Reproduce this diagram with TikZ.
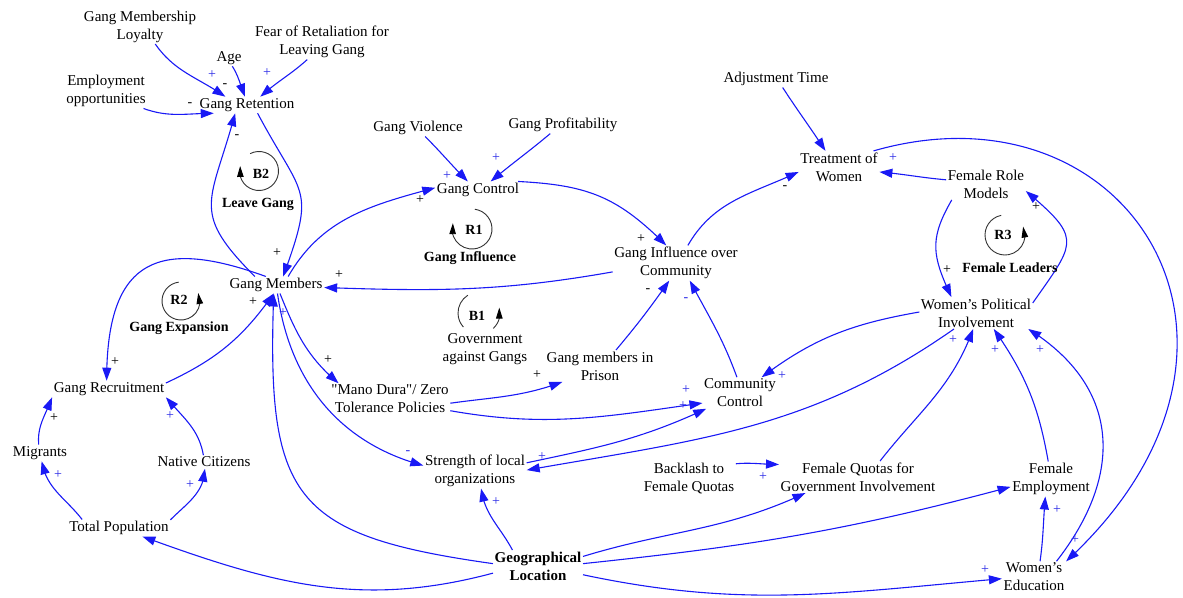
\documentclass[tikz,border=0pt]{standalone}
\usepackage{fontspec}
\setmainfont{Liberation Serif}
\newfontfamily\qfont{Liberation Serif}
\usetikzlibrary{arrows.meta,bending}
\definecolor{linkblue}{RGB}{25,25,245}
\definecolor{polblue}{RGB}{40,40,230}
\begin{document}
\begin{tikzpicture}[x=1pt,y=1pt,
  var/.style={inner sep=1.5pt, align=center, font=\fontsize{15}{18}\selectfont, text=black},
  lnk/.style={draw=linkblue, line width=1.1pt, -{Triangle[length=13pt,width=9pt]}},
  plb/.style={inner sep=0pt, font=\fontsize{14}{16}\selectfont, text=polblue},
  plk/.style={inner sep=0pt, font=\fontsize{14}{16}\selectfont, text=black},
  loopc/.style={draw=black!80, line width=0.9pt},
  looparr/.style={loopc, -{Triangle[length=11pt,width=6.5pt,color=black]}},
  lname/.style={inner sep=0pt, font=\fontsize{14}{16}\selectfont\bfseries}]
\useasboundingbox (0,0) rectangle (1183,597);

% variables
\node[var] (gml) at (140,570.5) {Gang Membership\\Loyalty};
\node[var] (age) at (229,539) {Age};
\node[var] (fear) at (322,555) {Fear of Retaliation for\\Leaving Gang};
\node[var] (emp) at (106,506) {Employment\\opportunities};
\node[var] (gr) at (247,492) {Gang Retention};
\node[var] (gv) at (418,469) {Gang Violence};
\node[var] (gp) at (563,472) {Gang Profitability};
\node[var] (gc) at (478,407) {Gang Control};
\node[var] (adj) at (776,518) {Adjustment Time};
\node[var] (tw) at (839,430) {Treatment of\\Women};
\node[var] (frm) at (986,413) {Female Role\\Models};
\node[var] (wpi) at (976,284) {Women's Political\\Involvement};
\node[var] (gio) at (676,334) {Gang Influence over\\Community};
\node[var] (gm) at (276,312) {Gang Members};
\node[var] (gpr) at (600,231) {Gang members in\\Prison};
\node[var] (mdz) at (390,198) {{\qfont"}Mano Dura{\qfont"}/ Zero\\Tolerance Policies};
\node[var] (cc) at (740,204) {Community\\Control};
\node[var] (grec) at (109,208) {Gang Recruitment};
\node[var] (mig) at (40,144) {Migrants};
\node[var] (nc) at (204,135) {Native Citizens};
\node[var] (tp) at (119,69) {Total Population};
\node[var] (slo) at (475,126) {Strength of local\\organizations};
\node[var] (bfq) at (689,118) {Backlash to\\Female Quotas};
\node[var] (fq) at (858,120) {Female Quotas for\\Government Involvement};
\node[var] (fe) at (1051,118) {Female\\Employment};
\node[var,font=\fontsize{15}{18}\selectfont\bfseries] (geo) at (538,31) {Geographical\\Location};
\node[var] (we) at (1034,20) {Women's\\Education};

% links
\draw[lnk] (gml.-49) to[out=-55,in=145] (gr.159);
\draw[lnk] (age.-68) to[out=-58,in=112] (gr.104);
\draw[lnk] (fear.-130) to[out=-138,in=42] (gr.32);
\draw[lnk] (emp.-25) to[out=-20,in=180] (gr.194);
\draw[lnk] (gr.-38) to[out=-62,in=70,looseness=1.5] (gm.50);
\draw[lnk] (gm.158) to[out=135,in=-105,looseness=1.45] (gr.-145);
\draw[lnk] (gm.140) to[out=160,in=90,looseness=1.6] (grec.106);
\draw[lnk] (grec.6) to[out=25,in=-125] (gm.-105);
\draw[lnk] (gm.35) to[out=60,in=195] (gc.177);
\draw[lnk] (gv.-50) to[out=-45,in=135] (gc.140);
\draw[lnk] (gp.-146) to[out=-140,in=40] (gc.34);
\draw[lnk] (gc.12) to[out=-3,in=135,looseness=1.1] (gio.119);
\draw[lnk] (gio.56) to[out=60,in=205] (tw.187);
\draw[lnk] (adj.-52) to[out=-57,in=123] (tw.130);
\draw[lnk] (frm.174) to[out=175,in=-5] (tw.-7);
\draw[lnk] (tw.25) .. controls (1130,520) and (1300,250) .. (we.26);
\draw[lnk] (we.35) to[out=52,in=-32,looseness=1.2] (wpi.-17);
\draw[lnk] (fe.99) to[out=100,in=-55] (wpi.-42);
\draw[lnk] (fq.36) to[out=52,in=-110] (wpi.-100);
\draw[lnk] (wpi.-144) to[out=-145,in=10] (slo.1);
\draw[lnk] (wpi.179) to[out=190,in=37] (cc.36);
\draw[lnk] (cc.101) to[out=110,in=-62] (gio.-52);
\draw[lnk] (gpr.45) to[out=50,in=-125] (gio.-111);
\draw[lnk] (gio.188) to[out=190,in=-2] (gm.-3);
\draw[lnk] (gm.-65) to[out=-68,in=140] (mdz.163);
\draw[lnk] (mdz.-4) to[out=8,in=-160] (gpr.203);
\draw[lnk] (mdz.-11) to[out=-10,in=-172] (cc.195);
\draw[lnk] (gm.-80) to[out=-82,in=165] (slo.174);
\draw[lnk] (slo.9) to[out=12,in=205] (cc.205);
\draw[lnk] (geo.177) to[out=172,in=-92,looseness=1.5] (gm.-105);
\draw[lnk] (geo.189) to[out=195,in=-20] (tp.-20);
\draw[lnk] (geo.148) to[out=118,in=-82] (slo.-71);
\draw[lnk] (geo.12) to[out=17,in=205] (fq.197);
\draw[lnk] (geo.3) to[out=6,in=195] (fe.191);
\draw[lnk] (geo.-11) to[out=-12,in=185] (we.183);
\draw[lnk] (we.69) to[out=82,in=-95] (fe.-108);
\draw[lnk] (bfq.18) to[out=5,in=180] (fq.171);
\draw[lnk] (tp.167) to[out=128,in=-80] (mig.-79);
\draw[lnk] (tp.9) to[out=45,in=-92] (nc.-82);
\draw[lnk] (mig.99) to[out=95,in=-110] (grec.south west);
\draw[lnk] (nc.95) to[out=100,in=-50] (grec.south east);
\draw[lnk] (frm.205) to[out=-120,in=115,looseness=1.2] (wpi.147);
\draw[lnk] (wpi.10) to[out=55,in=-40,looseness=1.7] (frm.-10);

% polarities
\node[plb] (s1) at (212,522) {+};
\node[plk] (s2) at (225,511) {-};
\node[plb] (s3) at (267,524) {+};
\node[plk] (s4) at (190,492) {-};
\node[plk] (s5) at (237,460) {-};
\node[plk] (s6) at (277,344) {+};
\node[plk] (s7) at (420,397) {+};
\node[plb] (s8) at (447,421) {+};
\node[plb] (s9) at (496,439) {+};
\node[plk] (s10) at (641,358) {+};
\node[plk] (s11) at (785,409) {-};
\node[plb] (s12) at (893,439) {+};
\node[plk] (s13) at (339,322) {+};
\node[plk] (s14) at (253,295) {+};
\node[plk] (s15) at (115,235) {+};
\node[plk] (s16) at (328,237) {+};
\node[plk] (s17) at (537,222) {+};
\node[plb] (s18) at (686,207) {+};
\node[plb] (s19) at (683,191) {+};
\node[plb] (s20) at (408,144) {-};
\node[plb] (s21) at (542,140) {+};
\node[plb] (s22) at (496,95) {+};
\node[plb] (s23) at (782,221) {+};
\node[plk] (s24) at (648,306) {-};
\node[plb] (s25) at (686,297) {-};
\node[plb] (s26) at (953,257) {+};
\node[plb] (s27) at (995,247) {+};
\node[plb] (s28) at (1040,247) {+};
\node[plk] (s29) at (1036,390) {+};
\node[plk] (s30) at (947,327) {+};
\node[plb] (s31) at (763,120) {+};
\node[plb] (s32) at (1057,87) {+};
\node[plb] (s33) at (985,27) {+};
\node[plb] (s34) at (1075,57) {+};
\node[plb] (s35) at (58,122) {+};
\node[plb] (s36) at (190,112) {+};
\node[plk] (s37) at (54,179) {+};
\node[plb] (s38) at (170,181) {+};
\node[plb] (s39) at (283,284) {+};

% loops
\coordinate (cB2) at (259,426);
\draw[looparr] ([shift={(117:19.5)}]cB2) arc[start angle=117,end angle=-195,radius=19.5];
\node[lname] (lB2) at (261,423) {B2};
\node[lname] (nB2) at (258,393) {Leave Gang};

\coordinate (cR1) at (472,368);
\draw[looparr] ([shift={(82:20)}]cR1) arc[start angle=82,end angle=-197,radius=20];
\node[lname] (lR1) at (474,367) {R1};
\node[lname] (nR1) at (470,339) {Gang Influence};

\coordinate (cR2) at (181,296);
\draw[looparr] ([shift={(97:19)}]cR2) arc[start angle=97,end angle=385,radius=19];
\node[lname] (lR2) at (179,297) {R2};
\node[lname] (nR2) at (179,269) {Gang Expansion};

\coordinate (cR3) at (1005,362);
\draw[looparr] ([shift={(101:20)}]cR3) arc[start angle=101,end angle=385,radius=20];
\node[lname] (lR3) at (1003,362) {R3};
\node[lname] (nR3) at (1010,329) {Female Leaders};

\coordinate (cB1) at (479,284);
\draw[loopc] ([shift={(122:21)}]cB1) arc[start angle=122,end angle=222,radius=21];
\draw[looparr] ([shift={(-47:21)}]cB1) arc[start angle=-47,end angle=15,radius=21];
\node[lname] (lB1) at (477,281) {B1};
\node[var] (nB1) at (485,248) {Government\\against Gangs};
\end{tikzpicture}
\end{document}
